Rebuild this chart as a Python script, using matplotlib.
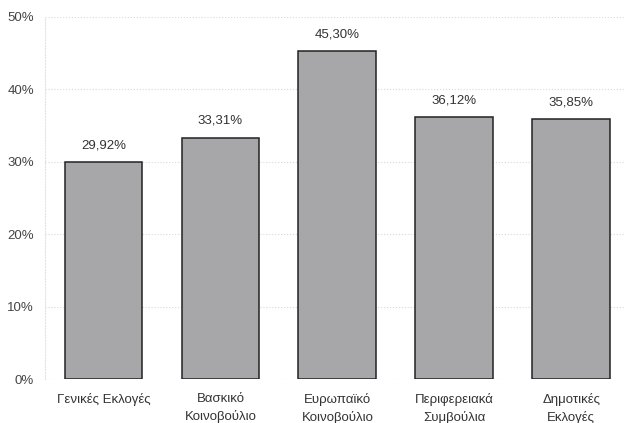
import matplotlib
matplotlib.use("Agg")
import matplotlib.pyplot as plt

plt.rcParams["font.family"] = ["Liberation Sans", "DejaVu Sans"]

categories = ["Γενικές Εκλογές", "Βασκικό\nΚοινοβούλιο", "Ευρωπαϊκό\nΚοινοβούλιο",
              "Περιφερειακά\nΣυμβούλια", "Δημοτικές\nΕκλογές"]
values = [29.92, 33.31, 45.30, 36.12, 35.85]
labels = ["29,92%", "33,31%", "45,30%", "36,12%", "35,85%"]
yticks = [0, 10, 20, 30, 40, 50]

fig = plt.figure(figsize=(6.24, 4.23), dpi=100)
ax = fig.add_axes([0.072, 0.104, 0.928, 0.856])

x = range(len(values))
ax.bar(x, values, width=0.665, color="#a7a7a9", edgecolor="#222222", linewidth=1.1, zorder=3)
for xi, v, lab in zip(x, values, labels):
    ax.text(xi, v + 1.5, lab, ha="center", va="bottom", fontsize=9.5, color="#333333")

ax.set_xlim(-0.5, 4.45)
ax.set_ylim(0, 50)
ax.set_yticks(yticks)
ax.set_yticklabels([f"{t}%" for t in yticks], fontsize=9.5, color="#444444")
ax.set_xticks(list(x))
ax.set_xticklabels(categories, fontsize=9.5, color="#333333", linespacing=1.5)
ax.tick_params(length=0, pad=8)
ax.tick_params(axis="x", pad=10)
ax.yaxis.grid(True, linestyle=":", color="#d8d8d8", linewidth=0.8, zorder=0)
for s in ["top", "right", "bottom"]:
    ax.spines[s].set_visible(False)
ax.spines["left"].set_color("#e2e2e2")
ax.spines["left"].set_linestyle(":")

fig.savefig("out.png", dpi=100)
